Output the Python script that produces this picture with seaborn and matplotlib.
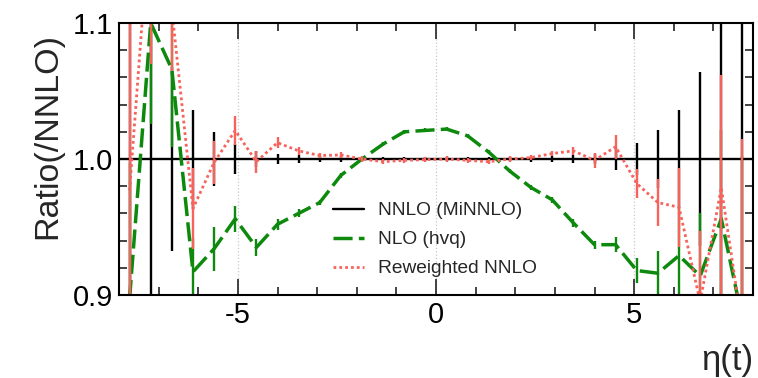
import numpy as np
import matplotlib
matplotlib.use("Agg")
import matplotlib.pyplot as plt
import seaborn as sns
from matplotlib.lines import Line2D
from matplotlib.ticker import MultipleLocator, FormatStrFormatter

# 30 equal-width bins in top-quark pseudorapidity
eta_edges = np.linspace(-8.0, 8.0, 31)
eta_centers = 0.5 * (eta_edges[:-1] + eta_edges[1:])

# Reference: NNLO (MiNNLO) divided by itself, with its statistical errors
nnlo_ratio = [1.0] * 30
nnlo_err = [0.30, 0.20, 0.068, 0.036, 0.020, 0.011, 0.006, 0.004, 0.003, 0.002,
            0.002, 0.0015, 0.0015, 0.0015, 0.0015, 0.0015, 0.0015, 0.0015, 0.0015, 0.002,
            0.002, 0.003, 0.004, 0.008, 0.012, 0.021, 0.036, 0.064, 0.15, 0.30]

# NLO (hvq) / NNLO
nlo_ratio = [0.897, 1.100, 1.066, 0.917, 0.934, 0.956, 0.935, 0.952, 0.960, 0.968,
             0.988, 1.000, 1.011, 1.020, 1.021, 1.022, 1.017, 1.005, 0.991, 0.979,
             0.970, 0.953, 0.937, 0.937, 0.918, 0.916, 0.929, 0.914, 0.956, 0.882]
nlo_err = [0.10, 0.074, 0.057, 0.025, 0.016, 0.0095, 0.006, 0.004, 0.003, 0.002,
           0.002, 0.0015, 0.0015, 0.0015, 0.0015, 0.0015, 0.0015, 0.0015, 0.0015, 0.002,
           0.002, 0.003, 0.003, 0.0055, 0.009, 0.016, 0.035, 0.046, 0.065, 0.12]

# Reweighted NNLO / NNLO
rew_ratio = [0.977, 1.185, 1.110, 0.9635, 0.9975, 1.021, 0.998, 1.012, 1.006, 1.0025,
             1.003, 1.000, 0.998, 0.999, 0.9995, 1.000, 0.999, 0.998, 1.000, 1.001,
             1.004, 1.006, 0.999, 1.009, 0.982, 0.968, 0.9645, 0.895, 0.979, 0.875]
rew_err = [0.25, 0.115, 0.045, 0.030, 0.016, 0.0105, 0.008, 0.004, 0.003, 0.002,
           0.002, 0.002, 0.002, 0.002, 0.002, 0.002, 0.002, 0.002, 0.002, 0.002,
           0.002, 0.003, 0.0055, 0.009, 0.011, 0.017, 0.029, 0.052, 0.083, 0.14]

series_labels = ["NNLO (MiNNLO)", "NLO (hvq)", "Reweighted NNLO"]
x_label = "\u03b7(t)"
y_label = "Ratio(/NNLO)"

BLACK = "#000000"
GREEN = "#0d8a0d"
RED = "#f7635c"
GREEN_DASH = (0, (5.5, 1.8))
RED_DOT = (0, (1, 1.1))

sns.set_style("ticks")
plt.rcParams["font.family"] = ["Liberation Sans", "DejaVu Sans"]
plt.rcParams["axes.unicode_minus"] = False

fig = plt.figure(figsize=(7.58, 3.78), dpi=100)
ax = fig.add_axes([119 / 758, 1 - 295 / 378, 634 / 758, 272 / 378])

def draw_errors(values, errors, color, z):
    v = np.asarray(values)
    e = np.asarray(errors)
    ax.vlines(eta_centers, v - e, v + e, color=color, lw=1.7, zorder=z)

# NNLO reference
draw_errors(nnlo_ratio, nnlo_err, BLACK, 2)
ax.stairs(nnlo_ratio, eta_edges, baseline=None, color=BLACK, lw=1.7, zorder=2.2)

# NLO (hvq)
draw_errors(nlo_ratio, nlo_err, GREEN, 3)
sns.lineplot(x=eta_centers, y=nlo_ratio, ax=ax, color=GREEN, lw=2.5,
             linestyle=GREEN_DASH, zorder=3.1)

# Reweighted NNLO
draw_errors(rew_ratio, rew_err, RED, 4)
sns.lineplot(x=eta_centers, y=rew_ratio, ax=ax, color=RED, lw=2.0,
             linestyle=RED_DOT, zorder=4.1)

ax.set_xlim(-8, 8)
ax.set_ylim(0.9, 1.1)
ax.xaxis.set_major_locator(MultipleLocator(5))
ax.xaxis.set_minor_locator(MultipleLocator(1))
ax.yaxis.set_major_locator(MultipleLocator(0.1))
ax.yaxis.set_minor_locator(MultipleLocator(0.02))
ax.yaxis.set_major_formatter(FormatStrFormatter("%.1f"))
ax.xaxis.set_major_formatter(FormatStrFormatter("%d"))

ax.grid(axis="x", which="major", color="#c8c8c8", ls=":", lw=0.9, zorder=1)
ax.grid(axis="y", visible=False)
for sp in ax.spines.values():
    sp.set_linewidth(1.5)
    sp.set_color("black")
    sp.set_zorder(6)

ax.tick_params(which="both", direction="in", top=True, right=True,
               width=1.2, color="#222222", labelsize=21, labelcolor="black")
ax.tick_params(which="major", length=11.5)
ax.tick_params(which="minor", length=5.8)
ax.tick_params(axis="x", which="major", pad=4)
ax.tick_params(axis="y", which="major", pad=4)

ax.set_xlabel(x_label, fontsize=25, loc="right")
ax.xaxis.set_label_coords(1.0, -0.18)
ax.set_ylabel(y_label, fontsize=24.5, loc="top")
ax.yaxis.set_label_coords(-0.088, 0.965)

handles = [
    Line2D([], [], color=BLACK, lw=1.7),
    Line2D([], [], color=GREEN, lw=2.5, linestyle=GREEN_DASH),
    Line2D([], [], color=RED, lw=2.0, linestyle=RED_DOT),
]
ax.legend(handles, series_labels, loc="upper left",
          bbox_to_anchor=((333 - 119) / 634, (295 - 202) / 272),
          frameon=False, fontsize=13.8, handlelength=1.6, handletextpad=0.75,
          labelspacing=0.6, borderpad=0, borderaxespad=0)

fig.savefig("out.png", dpi=100)
